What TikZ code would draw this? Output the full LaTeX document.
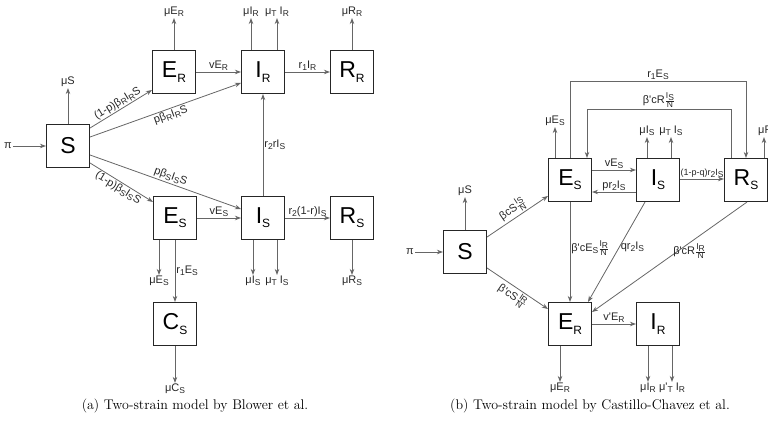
\documentclass[tikz,border=0pt]{standalone}
\usepackage{fontspec}
\newfontfamily\diag{Liberation Sans}
\usetikzlibrary{arrows.meta}
\newcommand{\bsub}[1]{\raisebox{-0.35ex}{\fontsize{12}{12}\selectfont #1}}
\newcommand{\ssub}[1]{\raisebox{-0.35ex}{\fontsize{8.5}{8.5}\selectfont #1}}
\newcommand{\sfr}[2]{$\frac{\hbox{\fontsize{8.5}{8.5}\selectfont #1}}{\hbox{\fontsize{8.5}{8.5}\selectfont #2}}$}
\tikzset{
  box/.style={draw=black!85, line width=1.1pt, minimum size=43pt, inner sep=0pt, font=\diag\fontsize{23}{23}\selectfont},
  flow/.style={draw=black!60, line width=0.8pt, -{Stealth[length=6pt,width=4.5pt]}},
  lab/.style={font=\diag\fontsize{11}{11}\selectfont, inner sep=1pt, text=black!85},
  captext/.style={font=\fontsize{14}{16}\selectfont},
}
\begin{document}
\begin{tikzpicture}[x=1pt,y=-1pt]
\useasboundingbox (0,0) rectangle (768,422);

\node[box] (Sa) at (68,146) {S};
\node[box] (ERa) at (174,72) {E\bsub{R}};
\node[box] (IRa) at (263,72) {I\bsub{R}};
\node[box] (RRa) at (352,72) {R\bsub{R}};
\node[box] (ESa) at (175,218) {E\bsub{S}};
\node[box] (ISa) at (263,218) {I\bsub{S}};
\node[box] (RSa) at (352,218) {R\bsub{S}};
\node[box] (CSa) at (175,324) {C\bsub{S}};

\node[lab] (pia) at (8,146) {π};
\node[lab] (muSa) at (68,82) {μS};
\node[lab] (muERa) at (174,12) {μE\ssub{R}};
\node[lab] (muIRa) at (251,12) {μI\ssub{R}};
\node[lab] (muTIRa) at (277,12) {μ\ssub{T} I\ssub{R}};
\node[lab] (muRRa) at (352,12) {μR\ssub{R}};
\node[lab] (muESa) at (159,281) {μE\ssub{S}};
\node[lab] (muISa) at (253,281) {μI\ssub{S}};
\node[lab] (muTISa) at (277,281) {μ\ssub{T} I\ssub{S}};
\node[lab] (muRSa) at (352,281) {μR\ssub{S}};
\node[lab] (muCSa) at (175,389) {μC\ssub{S}};

\draw[flow] (pia) -- (Sa);
\draw[flow] (Sa) -- (muSa);
\draw[flow] (ERa) -- (muERa);
\draw[flow] (muIRa |- IRa.north) -- (muIRa);
\draw[flow] (muTIRa |- IRa.north) -- (muTIRa);
\draw[flow] (RRa) -- (muRRa);
\draw[flow] (muESa |- ESa.south) -- (muESa);
\draw[flow] (muISa |- ISa.south) -- (muISa);
\draw[flow] (muTISa |- ISa.south) -- (muTISa);
\draw[flow] (RSa) -- (muRSa);
\draw[flow] (CSa) -- (muCSa);

\draw[flow] (ERa) -- node[lab,above] {vE\ssub{R}} (IRa);
\draw[flow] (IRa) -- node[lab,above] {r\ssub{1}I\ssub{R}} (RRa);
\draw[flow] (ESa) -- node[lab,above] {vE\ssub{S}} (ISa);
\draw[flow] (ISa) -- node[lab,above] {r\ssub{2}(1-r)I\ssub{S}} (RSa);
\draw[flow] (ISa) -- node[lab,right] {r\ssub{2}rI\ssub{S}} (IRa);
\draw[flow] (ESa) -- node[lab,right] {r\ssub{1}E\ssub{S}} (CSa);

\draw[flow] ([yshift=18pt]Sa.east) -- node[lab,above,sloped] {(1-p)β\ssub{R}I\ssub{R}S} ([yshift=4pt]ERa.south west);
\draw[flow] ([yshift=9pt]Sa.east) -- node[lab,below,sloped,pos=0.52] {pβ\ssub{R}I\ssub{R}S} ([yshift=-11pt]IRa.west);
\draw[flow] ([yshift=-9pt]Sa.east) -- node[lab,above,sloped,pos=0.52] {pβ\ssub{S}I\ssub{S}S} ([yshift=9pt]ISa.west);
\draw[flow] ([yshift=-17pt]Sa.east) -- node[lab,below,sloped] {(1-p)β\ssub{S}I\ssub{S}S} ([yshift=-6pt]ESa.north west);

\node[box] (Sb) at (465,252) {S};
\node[box] (ESb) at (570,180) {E\bsub{S}};
\node[box] (ISb) at (658,180) {I\bsub{S}};
\node[box] (RSb) at (746,180) {R\bsub{S}};
\node[box] (ERb) at (570,324) {E\bsub{R}};
\node[box] (IRb) at (658,324) {I\bsub{R}};

\node[lab] (pib) at (410,252) {π};
\node[lab] (muSb) at (465,191) {μS};
\node[lab] (muESb) at (555,121) {μE\ssub{S}};
\node[lab] (muISb) at (647,131) {μI\ssub{S}};
\node[lab] (muTISb) at (671,131) {μ\ssub{T} I\ssub{S}};
\node[lab,anchor=west] (muRSb) at (757,131) {μR\ssub{S}};
\node[lab] (muERb) at (560,388) {μE\ssub{R}};
\node[lab] (muIRb) at (648,388) {μI\ssub{R}};
\node[lab] (muTIRb) at (672,388) {μ'\ssub{T} I\ssub{R}};
\coordinate (llb) at (570,81);
\coordinate (lrb) at (746,81);
\coordinate (lpb) at (731,109);
\coordinate (lqb) at (587,109);

\draw[flow] (pib) -- (Sb);
\draw[flow] (Sb) -- (muSb);
\draw[flow] (muESb |- ESb.north) -- (muESb);
\draw[flow] (muISb |- ISb.north) -- (muISb);
\draw[flow] (muTISb |- ISb.north) -- (muTISb);
\draw[flow] ([xshift=18pt]RSb.north) -- ([xshift=18pt]RSb.north |- muRSb.south);
\draw[flow] (muERb |- ERb.south) -- (muERb);
\draw[flow] (muIRb |- IRb.south) -- (muIRb);
\draw[flow] (muTIRb |- IRb.south) -- (muTIRb);

\draw[flow] (ESb) -- (llb) -- node[lab,above] {r\ssub{1}E\ssub{S}} (lrb) -- (RSb);
\draw[flow] (lpb |- RSb.north) -- (lpb) -- node[lab,above] {β'cR\sfr{I\ssub{S}}{N}} (lqb) -- (lqb |- ESb.north);

\draw[flow] ([yshift=10pt]ESb.east) -- node[lab,above] {vE\ssub{S}} ([yshift=10pt]ISb.west);
\draw[flow] ([yshift=-12pt]ISb.west) -- node[lab,above] {pr\ssub{2}I\ssub{S}} ([yshift=-12pt]ESb.east);
\draw[flow] ([yshift=1pt]ISb.east) -- node[lab,above,font=\diag\fontsize{9}{9}\selectfont] {(1-p-q)r\ssub{2}I\ssub{S}} ([yshift=1pt]RSb.west);
\draw[flow] (ESb) -- node[lab,right,pos=0.46] {β'cE\ssub{S}\sfr{I\ssub{R}}{N}} (ERb);
\draw[flow] ([xshift=-13pt]ISb.south) -- node[lab,right,pos=0.45] {qr\ssub{2}I\ssub{S}} ([xshift=18pt]ERb.north);
\draw[flow] ([xshift=1pt]RSb.south) -- node[lab,below,pos=0.37] {β'cR\sfr{I\ssub{R}}{N}} ([yshift=12pt]ERb.east);
\draw[flow] (ERb) -- node[lab,above] {v'E\ssub{R}} (IRb);

\draw[flow] ([yshift=15pt]Sb.east) -- node[lab,above,sloped] {βcS\sfr{I\ssub{S}}{N}} ([yshift=-16pt]ESb.west);
\draw[flow] ([yshift=-16pt]Sb.east) -- node[lab,below,sloped] {β'cS\sfr{I\ssub{R}}{N}} ([yshift=15pt]ERb.west);

\node[captext] (capa) at (195,406) {(a) Two-strain model by Blower et al.};
\node[captext] (capb) at (590,406) {(b) Two-strain model by Castillo-Chavez et al.};
\end{tikzpicture}
\end{document}
